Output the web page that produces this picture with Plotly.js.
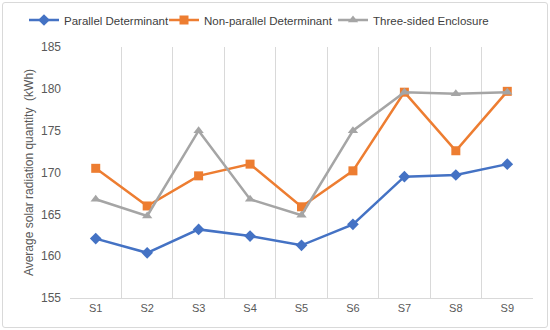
<!DOCTYPE html>
<html><head><meta charset="utf-8">
<script src="https://cdn.plot.ly/plotly-3.0.1.min.js"></script>
<style>
body{margin:0;padding:0;background:#fff;}
#wrap{position:relative;width:550px;height:330px;}
#chart{width:550px;height:330px;}
#frame{position:absolute;left:2px;top:2px;width:544px;height:324px;border:1px solid #d9d9d9;border-radius:3px;pointer-events:none;}
</style></head>
<body>
<div id="wrap"><div id="chart"></div><div id="frame"></div></div>
<script>
const categories = ["S1","S2","S3","S4","S5","S6","S7","S8","S9"];
const parallel = [162.1,160.4,163.2,162.4,161.3,163.8,169.5,169.7,171.0];
const nonParallel = [170.5,166.0,169.6,171.0,165.9,170.2,179.6,172.6,179.7];
const threeSided = [166.8,164.8,175.0,166.8,164.9,175.0,179.6,179.4,179.6];
const seriesNames = ["Parallel Determinant","Non-parallel Determinant","Three-sided Enclosure"];
const yTicks = [155,160,165,170,175,180,185];

const font = "'Liberation Sans', Arial, sans-serif";
function tr(y, name, color, symbol, size, leg){
  return {x:categories, y:y, name:name, type:'scatter', mode:'lines+markers', legend:leg,
    line:{color:color, width:2.5}, marker:{color:color, symbol:symbol, size:size}};
}
const data = [
  tr(parallel, seriesNames[0], '#4472C4', 'diamond', 9, 'legend'),
  tr(nonParallel, seriesNames[1], '#ED7D31', 'square', 9, 'legend2'),
  tr(threeSided, seriesNames[2], '#A5A5A5', 'triangle-up', 9, 'legend3')
];
function leg(xpx){
  return {orientation:'h', x:xpx/550, xanchor:'left', xref:'container', y:1-20/330, yanchor:'middle', yref:'container',
    font:{size:11.5, color:'#404040'}, itemwidth:30, bgcolor:'rgba(0,0,0,0)'};
}
const layout = {
  width:550, height:330,
  margin:{l:70, r:17, t:47, b:32},
  paper_bgcolor:'#fff', plot_bgcolor:'#fff',
  font:{family:font, color:'#595959', size:11},
  showlegend:true,
  legend:leg(24), legend2:leg(164), legend3:leg(333),
  xaxis:{type:'category', range:[-0.5,8.5], tickson:'boundaries', showgrid:true,
    gridcolor:'#d9d9d9', gridwidth:1, showline:true, linecolor:'#d9d9d9', ticks:'',
    zeroline:false, tickfont:{size:11, color:'#595959'}, fixedrange:true},
  yaxis:{range:[155,185], tickvals:yTicks, showgrid:false, zeroline:false, showline:false,
    ticks:'', ticklabelstandoff:8, tickfont:{size:12, color:'#595959'},
    title:{text:'Average solar radiation quantity  (kWh)', font:{size:12, color:'#595959'}, standoff:4}}
};
Plotly.newPlot('chart', data, layout, {displayModeBar:false, staticPlot:true});
</script>
</body></html>
